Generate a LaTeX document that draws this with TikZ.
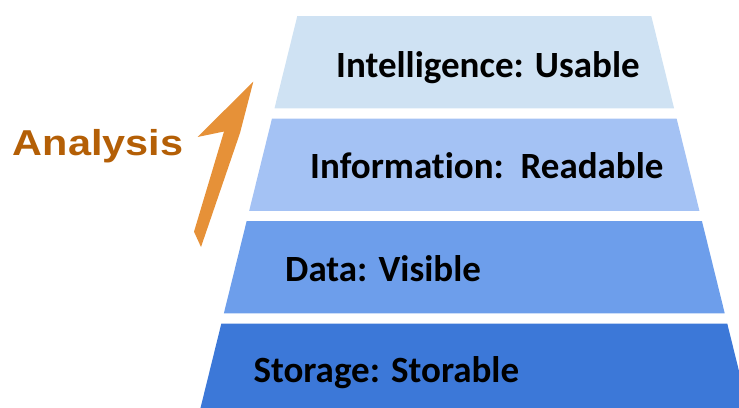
\documentclass[tikz,border=0pt]{standalone}
\usepackage{fontspec}
\setmainfont[Ligatures=NoCommon]{Carlito}
\newfontfamily\arialfont{Liberation Sans}
\usetikzlibrary{positioning,calc}
\definecolor{lvlA}{HTML}{CFE2F3}
\definecolor{lvlB}{HTML}{A4C2F4}
\definecolor{lvlC}{HTML}{6D9EEB}
\definecolor{lvlD}{HTML}{3C78D8}
\definecolor{arrowor}{HTML}{E69138}
\definecolor{anabrown}{HTML}{B45F06}
\tikzset{
    laytext/.style={anchor=base west, inner sep=0pt, font=\fontsize{37}{40}\selectfont\bfseries},
    anatext/.style={anchor=base west, inner sep=0pt, text=anabrown, font=\arialfont\bfseries\fontsize{36}{40}\selectfont},
    uparrow/.style={fill=arrowor, draw=none}
}

\begin{document}
\begin{tikzpicture}[x=1pt,y=-1pt]
    \clip (0,0) rectangle (739,407);
    % pyramid bands, top to bottom
    \foreach \t/\c in {16/lvlA,118.5/lvlB,221/lvlC,323.5/lvlD}{
        \pgfmathsetmacro\b{\t+92.3}
        \pgfmathsetmacro\wt{177+0.247*(\t-16)}
        \pgfmathsetmacro\wb{177+0.247*(\b-16)}
        \fill[\c] (474.3-\wt,\t) -- (474.3+\wt,\t) -- (474.3+\wb,\b) -- (474.3-\wb,\b) -- cycle;
    }
    \node[laytext] (intel) at (336,77.3) {Intelligence: Usable};
    \node[laytext] (info) at (310,178.3) {Information:\ \ Readable};
    \node[laytext] (data) at (285,281.7) {Data: Visible};
    \node[laytext] (stor) at (253.3,382.3) {Storage: Storable};
    % analysis arrow
    \node[anatext] (ana) at (12.7,155) {\scalebox{1.15}[1]{Analysis}};
    \coordinate (tip) at (253.3,81.7);
    \coordinate (tail) at (201,247);
    \fill[uparrow] (tip) -- (197.5,137) -- (224,131.5) -- (194,231.7) -- (tail) -- (240,133) -- cycle;
\end{tikzpicture}
\end{document}
